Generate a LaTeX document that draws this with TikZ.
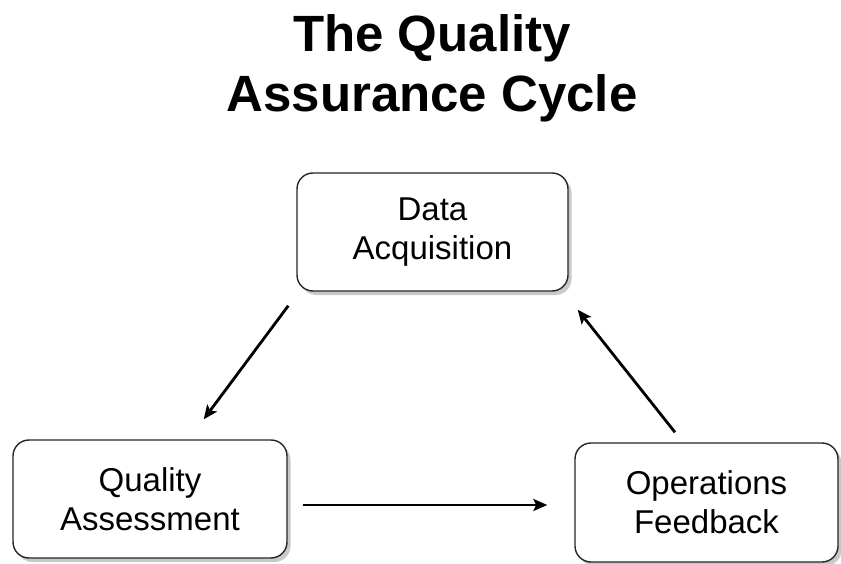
\documentclass[tikz,border=0pt]{standalone}
\usepackage{fontspec}
\setmainfont{Liberation Sans}
\usetikzlibrary{arrows.meta,shadows}
\tikzset{
  stagebox/.style={draw=black!85, line width=1.4pt, rounded corners=16pt, fill=white,
    align=center, inner sep=0pt, font=\fontsize{33}{39}\selectfont,
    drop shadow={shadow xshift=3.5pt, shadow yshift=-4pt, opacity=0.3, fill=black!70}},
  titletext/.style={font=\fontsize{51}{61}\selectfont\bfseries, anchor=base, inner sep=0pt},
  flow/.style={line width=2.8pt, -{Stealth[length=14pt,width=12pt,inset=3pt]}}
}
\begin{document}
\begin{tikzpicture}[x=1pt,y=-1pt]
\useasboundingbox (0,0) rectangle (841,564);
\node[titletext] (t1) at (432,52) {The Quality};
\node[titletext] (t2) at (432,112) {Assurance Cycle};
\node[stagebox, minimum width=271pt, minimum height=118pt] (top) at (432.5,232) {Data\\Acquisition};
\node[stagebox, minimum width=274pt, minimum height=118pt] (ql) at (150,499) {Quality\\Assessment};
\node[stagebox, minimum width=263pt, minimum height=119pt] (ofb) at (706.5,502.5) {Operations\\Feedback};
\draw[flow] ([shift={(-8,14)}]top.south west) -- ([shift={(-84,-20)}]ql.north east);
\draw[flow] ([shift={(15,6)}]ql.east) -- ([shift={(-27,2.5)}]ofb.west);
\draw[flow] ([shift={(-31.5,-10)}]ofb.north) -- ([shift={(9,18)}]top.south east);
\end{tikzpicture}
\end{document}
